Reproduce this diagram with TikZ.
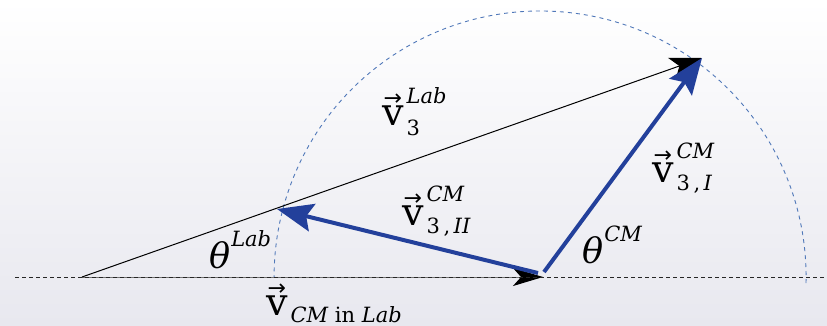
\documentclass[tikz,border=0pt]{standalone}
\usepackage{fontspec}
\setmainfont{DejaVu Serif}
\newfontfamily\symf{DejaVu Sans}
\usetikzlibrary{arrows.meta}
\definecolor{vblue}{RGB}{35,64,155}
\definecolor{arcblue}{RGB}{80,120,185}
\definecolor{bgbot}{RGB}{232,232,239}
\newcommand\ssz{\fontsize{21}{22}\selectfont}
\newcommand\vsym{{\fontsize{38}{40}\selectfont\ooalign{\hfil\raisebox{20pt}{\symf\fontsize{22}{22}\selectfont →}\hfil\cr v\cr}}}
\NewDocumentCommand\vv{O{24pt}O{8pt}mm}{\vsym\kern3pt\rlap{\raisebox{#1}{\ssz #3}}\raisebox{-#2}{\ssz #4}}
\newcommand\thsym[1]{{\fontsize{35}{36}\selectfont\itshape θ}\kern1pt\raisebox{22pt}{\ssz\itshape #1}}
\tikzset{
  lbl/.style={inner sep=0pt, anchor=base west},
  bluevec/.style={draw=vblue, line width=4pt, -{Stealth[length=36pt,width=28pt,inset=6pt,fill=vblue]}},
  blackvec/.style={draw=black, line width=1pt, -{Stealth[length=32pt,width=23pt,inset=8pt,color=black]}},
  cmvec/.style={draw=black!55, line width=1pt, -{Stealth[length=30pt,width=18pt,inset=8pt,color=black]}},
  axisline/.style={draw=black!85, line width=0.9pt, dash pattern=on 4pt off 3pt},
  arcline/.style={draw=arcblue, line width=0.9pt, dash pattern=on 4pt off 4pt},
}
\begin{document}
\begin{tikzpicture}[x=1pt,y=-1pt]
\useasboundingbox (0,0) rectangle (827,325);
\shade[top color=white, bottom color=bgbot] (0,0) rectangle (827,325);
% points
\coordinate (L) at (15,277);
\coordinate (R) at (827,277);
\coordinate (O) at (82,277);
\coordinate (C) at (543,277);
\coordinate (S1) at (544,272);
\coordinate (S2) at (538,273);
\coordinate (P1) at (702,58);
\coordinate (P2) at (277,209);
\coordinate (A) at (806,283);
% circle arc
\draw[arcline] (A) arc[start angle=1.3, end angle=-180, radius=266];
% v_CM in lab
\draw[cmvec] (O) -- (C);
\draw[axisline] (L) -- (R);
% v_3 lab
\draw[blackvec] (O) -- (P1);
% CM vectors
\draw[bluevec] (S2) -- (P2);
\draw[bluevec] (S1) -- (P1);
% labels
\node[lbl] (vlab) at (382,125) {\vv[22pt][10pt]{\itshape Lab}{3}};
\node[lbl] (vII) at (402,225) {\vv{\itshape CM}{3\,,\,\itshape II}};
\node[lbl] (vI) at (652,182) {\vv{\itshape CM}{3\,,\,\itshape I}};
\node[lbl] (vcm) at (266,315) {\vsym\kern3pt\raisebox{-7pt}{\ssz\itshape CM \upshape in \itshape Lab}};
\node[lbl] (thl) at (209,268) {\thsym{Lab}};
\node[lbl] (thc) at (582,263) {\thsym{CM}};
\end{tikzpicture}
\end{document}
